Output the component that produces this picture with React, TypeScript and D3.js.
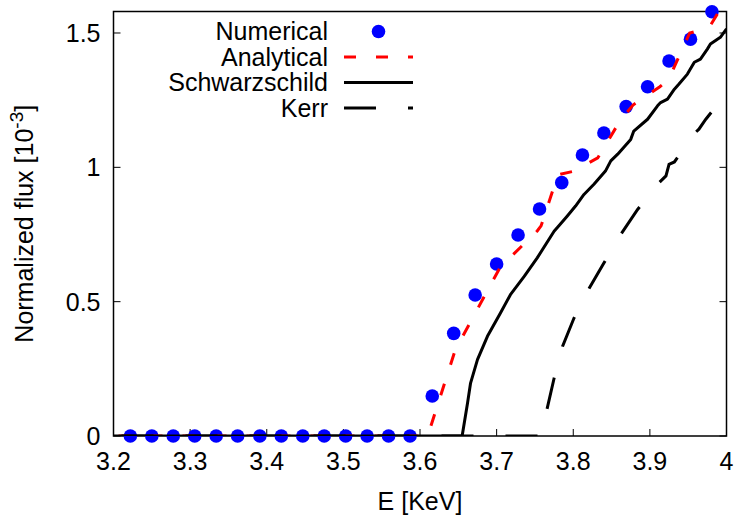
import React, { useEffect, useRef } from "react";
import * as d3 from "d3";

// Numerical (blue points)
const numericalE = [
  3.222, 3.25, 3.278, 3.306, 3.334, 3.362, 3.391, 3.419, 3.447, 3.475, 3.503,
  3.531, 3.559, 3.587, 3.616, 3.644, 3.672, 3.7, 3.728, 3.756, 3.785, 3.812,
  3.84, 3.869, 3.897, 3.925, 3.953, 3.981,
];
const numericalFlux = [
  0, 0, 0, 0, 0, 0, 0, 0, 0, 0, 0, 0, 0, 0, 0.149, 0.382, 0.525, 0.64, 0.748,
  0.845, 0.943, 1.046, 1.128, 1.226, 1.3, 1.396, 1.477, 1.579,
];

// Analytical (red dashed)
const analyticalE = [
  3.2, 3.61, 3.646, 3.665, 3.704, 3.721, 3.753, 3.758, 3.78, 3.8, 3.832, 3.861,
  3.878, 3.913, 3.924, 3.952, 3.977, 4.0,
];
const analyticalFlux = [
  0, 0, 0.32, 0.42, 0.625, 0.674, 0.763, 0.782, 0.972, 0.985, 1.035, 1.173,
  1.232, 1.3, 1.325, 1.5, 1.519, 1.626,
];

// Schwarzschild (black solid)
const schwarzE = [
  3.2, 3.655, 3.662, 3.666, 3.675, 3.688, 3.705, 3.718, 3.736, 3.753, 3.775,
  3.779, 3.792, 3.803, 3.814, 3.827, 3.842, 3.849, 3.858, 3.875, 3.879, 3.897,
  3.91, 3.914, 3.923, 3.932, 3.938, 3.949, 3.958, 3.966, 3.975, 3.979, 3.992,
  4.0,
];
const schwarzFlux = [
  0, 0, 0.122, 0.197, 0.284, 0.371, 0.458, 0.526, 0.594, 0.663, 0.762, 0.775,
  0.818, 0.856, 0.899, 0.937, 0.986, 1.024, 1.049, 1.104, 1.135, 1.179, 1.229,
  1.241, 1.254, 1.291, 1.31, 1.347, 1.391, 1.403, 1.44, 1.459, 1.484, 1.515,
];

// Kerr (black long dashes)
const kerrE = [
  3.2, 3.759, 3.766, 3.775, 3.786, 3.801, 3.821, 3.84, 3.862, 3.884, 3.91,
  3.921, 3.925, 3.932, 3.957, 3.964, 3.973, 3.98,
];
const kerrFlux = [
  0, 0, 0.103, 0.215, 0.333, 0.439, 0.551, 0.644, 0.75, 0.843, 0.937, 0.968,
  1.011, 1.02, 1.123, 1.142, 1.179, 1.204,
];

const xTicks = [3.2, 3.3, 3.4, 3.5, 3.6, 3.7, 3.8, 3.9, 4.0];
const yTicks = [0, 0.5, 1, 1.5];
const legendLabels = ["Numerical", "Analytical", "Schwarzschild", "Kerr"];

const FONT = "'Liberation Sans', Arial, Helvetica, sans-serif";

const App = () => {
  const ref = useRef<SVGSVGElement | null>(null);

  useEffect(() => {
    const width = 738;
    const height = 515;
    const margin = { top: 11.5, right: 11.5, bottom: 79, left: 113.5 };

    const svg = d3.select(ref.current);
    svg.selectAll("*").remove();

    const x = d3
      .scaleLinear()
      .domain([3.2, 4.0])
      .range([margin.left, width - margin.right]);
    const y = d3
      .scaleLinear()
      .domain([0, 1.58])
      .range([height - margin.bottom, margin.top]);

    const x0 = x.range()[0];
    const x1 = x.range()[1];
    const y0 = y.range()[0];
    const y1 = y.range()[1];

    svg
      .append("rect")
      .attr("width", width)
      .attr("height", height)
      .attr("fill", "white");

    svg
      .append("defs")
      .append("clipPath")
      .attr("id", "plot-clip")
      .append("rect")
      .attr("x", x0)
      .attr("y", y1)
      .attr("width", x1 - x0)
      .attr("height", y0 - y1);

    // border
    svg
      .append("rect")
      .attr("x", x0)
      .attr("y", y1)
      .attr("width", x1 - x0)
      .attr("height", y0 - y1)
      .attr("fill", "none")
      .attr("stroke", "black")
      .attr("stroke-width", 1.5);

    // ticks: inward, x on bottom only, y on both sides
    const tickLen = 7;
    const ticks = svg.append("g").attr("stroke", "black").attr("stroke-width", 1);
    xTicks.forEach((t) => {
      ticks
        .append("line")
        .attr("x1", x(t))
        .attr("x2", x(t))
        .attr("y1", y0)
        .attr("y2", y0 - tickLen);
    });
    yTicks.forEach((t) => {
      ticks
        .append("line")
        .attr("x1", x0)
        .attr("x2", x0 + tickLen)
        .attr("y1", y(t))
        .attr("y2", y(t));
      ticks
        .append("line")
        .attr("x1", x1)
        .attr("x2", x1 - tickLen)
        .attr("y1", y(t))
        .attr("y2", y(t));
    });

    // tick labels
    svg
      .append("g")
      .selectAll("text")
      .data(xTicks)
      .join("text")
      .attr("x", (d) => x(d))
      .attr("y", y0 + 34)
      .attr("text-anchor", "middle")
      .style("font-family", FONT)
      .style("font-size", "25px")
      .text((d) => d3.format("~g")(d));

    svg
      .append("g")
      .selectAll("text")
      .data(yTicks)
      .join("text")
      .attr("x", x0 - 13)
      .attr("y", (d) => y(d) + 9)
      .attr("text-anchor", "end")
      .style("font-family", FONT)
      .style("font-size", "25px")
      .text((d) => d3.format("~g")(d));

    // axis labels
    svg
      .append("text")
      .attr("x", (x0 + x1) / 2)
      .attr("y", 510)
      .attr("text-anchor", "middle")
      .style("font-family", FONT)
      .style("font-size", "25px")
      .text("E [KeV]");

    const yLabel = svg
      .append("text")
      .attr("transform", `translate(33,${(y0 + y1) / 2}) rotate(-90)`)
      .attr("text-anchor", "middle")
      .style("font-family", FONT)
      .style("font-size", "25px");
    yLabel.append("tspan").text("Normalized flux [10");
    yLabel.append("tspan").attr("dy", -10).style("font-size", "19px").text("-3");
    yLabel.append("tspan").attr("dy", 10).text("]");

    const line = d3
      .line<[number, number]>()
      .x((d) => x(d[0]))
      .y((d) => y(d[1]));

    const plot = svg.append("g");

    // Numerical points
    plot
      .append("g")
      .selectAll("circle")
      .data(numericalE.map((e, i) => [e, numericalFlux[i]] as [number, number]))
      .join("circle")
      .attr("cx", (d) => x(d[0]))
      .attr("cy", (d) => y(d[1]))
      .attr("r", 6.8)
      .attr("fill", "#0000ff");

    const curves = plot.append("g").attr("clip-path", "url(#plot-clip)");

    curves
      .append("path")
      .datum(analyticalE.map((e, i) => [e, analyticalFlux[i]] as [number, number]))
      .attr("fill", "none")
      .attr("stroke", "#ff0000")
      .attr("stroke-width", 3)
      .attr("stroke-dasharray", "12 20")
      .attr("stroke-dashoffset", 27)
      .attr("d", line);

    curves
      .append("path")
      .datum(schwarzE.map((e, i) => [e, schwarzFlux[i]] as [number, number]))
      .attr("fill", "none")
      .attr("stroke", "black")
      .attr("stroke-width", 3)
      .attr("stroke-linejoin", "round")
      .attr("d", line);

    curves
      .append("path")
      .datum(kerrE.map((e, i) => [e, kerrFlux[i]] as [number, number]))
      .attr("fill", "none")
      .attr("stroke", "black")
      .attr("stroke-width", 3)
      .attr("stroke-dasharray", "32 32")
      .attr("stroke-dashoffset", 56)
      .attr("d", line);

    // legend
    const legend = svg.append("g");
    const rowY = (i: number) => 31.5 + i * 25.5;
    const sx0 = 344;
    const sx1 = 413;
    legendLabels.forEach((label, i) => {
      legend
        .append("text")
        .attr("x", 328)
        .attr("y", rowY(i) + 8.5)
        .attr("text-anchor", "end")
        .style("font-family", FONT)
        .style("font-size", "25px")
        .text(label);
    });
    legend
      .append("circle")
      .attr("cx", (sx0 + sx1) / 2)
      .attr("cy", rowY(0))
      .attr("r", 6.8)
      .attr("fill", "#0000ff");
    legend
      .append("line")
      .attr("x1", sx0)
      .attr("x2", sx1)
      .attr("y1", rowY(1))
      .attr("y2", rowY(1))
      .attr("stroke", "#ff0000")
      .attr("stroke-width", 3)
      .attr("stroke-dasharray", "12 20");
    legend
      .append("line")
      .attr("x1", sx0)
      .attr("x2", sx1)
      .attr("y1", rowY(2))
      .attr("y2", rowY(2))
      .attr("stroke", "black")
      .attr("stroke-width", 3);
    legend
      .append("line")
      .attr("x1", sx0)
      .attr("x2", sx1)
      .attr("y1", rowY(3))
      .attr("y2", rowY(3))
      .attr("stroke", "black")
      .attr("stroke-width", 3)
      .attr("stroke-dasharray", "32 32");
  }, []);

  return (
    <div style={{ position: "absolute", left: 0, top: 0 }}>
      <svg ref={ref} width={738} height={515} style={{ display: "block" }} />
    </div>
  );
};

export default App;
